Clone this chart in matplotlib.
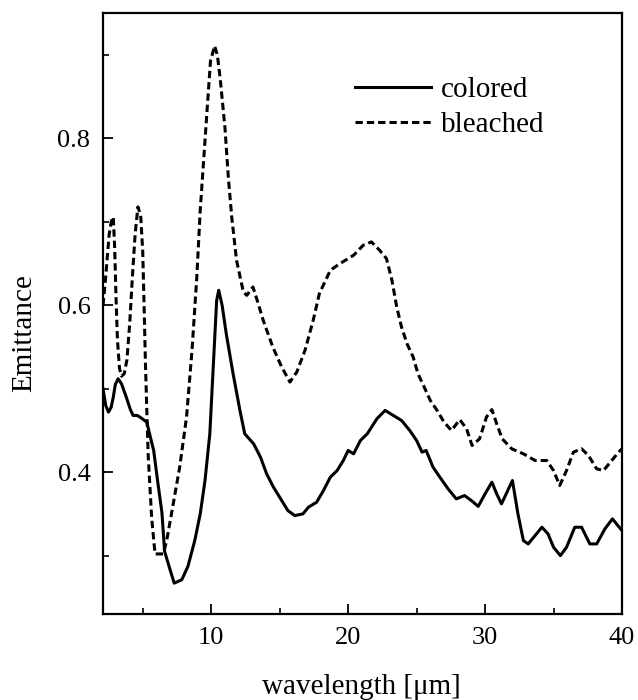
import matplotlib
matplotlib.use("Agg")
import matplotlib.pyplot as plt
from matplotlib.ticker import MultipleLocator

colored_x = [2.1, 2.3, 2.5, 2.7, 2.85, 3.0, 3.2, 3.45, 3.8, 4.1, 4.3, 4.6, 4.8, 5.3, 5.5, 5.8,
             6.1, 6.4, 6.6, 7.0, 7.3, 7.85, 8.3, 8.8, 9.2, 9.55, 9.9, 10.15, 10.4, 10.55, 10.8,
             11.1, 11.6, 12.1, 12.45, 13.1, 13.6, 14.05, 14.55, 15.15, 15.6, 16.1, 16.7, 17.1,
             17.7, 18.2, 18.7, 19.2, 19.65, 20.0, 20.4, 20.9, 21.4, 22.1, 22.7, 23.3, 23.9, 24.5,
             25.0, 25.4, 25.7, 26.2, 26.7, 27.3, 27.9, 28.5, 29.0, 29.5, 30.0, 30.5, 30.85, 31.2,
             31.6, 32.0, 32.4, 32.8, 33.15, 33.65, 34.15, 34.6, 35.0, 35.5, 35.95, 36.55, 37.05,
             37.65, 38.15, 38.75, 39.3, 40.0]
colored_y = [0.500, 0.480, 0.472, 0.478, 0.490, 0.505, 0.512, 0.506, 0.490, 0.475, 0.468, 0.468,
             0.466, 0.460, 0.446, 0.426, 0.388, 0.352, 0.305, 0.283, 0.267, 0.271, 0.287, 0.318,
             0.350, 0.390, 0.446, 0.526, 0.606, 0.618, 0.600, 0.566, 0.518, 0.474, 0.446, 0.434,
             0.418, 0.398, 0.382, 0.366, 0.354, 0.348, 0.350, 0.358, 0.364, 0.378, 0.394, 0.402,
             0.414, 0.426, 0.422, 0.438, 0.446, 0.464, 0.474, 0.468, 0.462, 0.450, 0.438, 0.424,
             0.426, 0.406, 0.394, 0.380, 0.368, 0.372, 0.366, 0.359, 0.374, 0.388, 0.374, 0.362,
             0.376, 0.390, 0.350, 0.318, 0.314, 0.324, 0.334, 0.326, 0.310, 0.300, 0.310, 0.334,
             0.334, 0.314, 0.314, 0.332, 0.344, 0.330]

bleached_x = [2.1, 2.25, 2.4, 2.55, 2.7, 2.85, 2.95, 3.05, 3.15, 3.3, 3.45, 3.65, 3.85, 4.05, 4.25,
              4.45, 4.65, 4.85, 5.0, 5.1, 5.2, 5.3, 5.4, 5.65, 5.9, 6.5, 6.75, 7.1, 7.7, 8.2, 8.6,
              8.95, 9.2, 9.45, 9.7, 9.95, 10.25, 10.45, 10.65, 11.0, 11.25, 11.5, 11.85, 12.35,
              12.6, 13.05, 13.4, 13.8, 14.5, 15.15, 15.75, 16.25, 16.85, 17.45, 17.9, 18.7, 19.4,
              20.4, 21.1, 21.7, 22.3, 22.8, 23.2, 23.55, 23.9, 24.3, 24.75, 25.1, 25.5, 26.0, 26.5,
              27.0, 27.55, 28.15, 28.65, 29.05, 29.6, 30.1, 30.5, 30.85, 31.25, 31.95, 32.8, 33.65,
              34.5, 35.0, 35.45, 35.95, 36.45, 37.05, 37.55, 38.15, 38.65, 39.15, 39.75, 40.0]
bleached_y = [0.600, 0.625, 0.655, 0.685, 0.700, 0.706, 0.670, 0.610, 0.560, 0.525, 0.515, 0.518,
              0.535, 0.578, 0.635, 0.686, 0.718, 0.708, 0.665, 0.600, 0.530, 0.474, 0.420, 0.346,
              0.302, 0.302, 0.318, 0.350, 0.406, 0.466, 0.546, 0.634, 0.714, 0.774, 0.834, 0.893,
              0.911, 0.900, 0.873, 0.814, 0.754, 0.706, 0.654, 0.616, 0.612, 0.622, 0.604, 0.582,
              0.550, 0.526, 0.508, 0.520, 0.546, 0.582, 0.614, 0.642, 0.650, 0.660, 0.672, 0.676,
              0.666, 0.656, 0.630, 0.598, 0.574, 0.554, 0.538, 0.518, 0.504, 0.486, 0.474, 0.460,
              0.450, 0.463, 0.452, 0.432, 0.440, 0.466, 0.475, 0.458, 0.440, 0.428, 0.422, 0.414,
              0.414, 0.402, 0.384, 0.402, 0.424, 0.428, 0.420, 0.404, 0.402, 0.412, 0.424, 0.428]

series_labels = ["colored", "bleached"]
x_ticks = [10, 20, 30, 40]
y_ticks = [0.4, 0.6, 0.8]

plt.rcParams['font.family'] = ['Liberation Serif', 'DejaVu Serif']

fig = plt.figure(figsize=(6.38, 7.0), dpi=100)
ax = fig.add_axes([103/638, 1 - 614/700, 519/638, 601.5/700])

ax.plot(colored_x, colored_y, color='black', lw=2.2, label=series_labels[0])
ax.plot(bleached_x, bleached_y, color='black', lw=2.2, linestyle=(0, (2.4, 1.3)),
        label=series_labels[1])

ax.set_xlim(2.1, 40)
ax.set_ylim(0.23, 0.951)
ax.set_xticks(x_ticks)
ax.set_yticks(y_ticks)
ax.xaxis.set_minor_locator(MultipleLocator(5))
ax.yaxis.set_minor_locator(MultipleLocator(0.1))
ax.tick_params(which='major', direction='in', length=7, width=1.3, labelsize=19, pad=9)
ax.tick_params(which='minor', direction='in', length=4, width=1.2)
for s in ax.spines.values():
    s.set_linewidth(1.6)

ax.set_xlabel("wavelength [μm]", fontsize=21)
ax.xaxis.label.set_va('center')
ax.xaxis.set_label_coords(0.497, -0.122)
ax.set_ylabel("Emittance", fontsize=21)
ax.yaxis.label.set_va('center')
ax.yaxis.set_label_coords(-0.152, 0.467)

ax.legend(loc='upper left', bbox_to_anchor=(0.4855, 0.893), frameon=False, fontsize=21,
          borderpad=0, borderaxespad=0, handlelength=2.6, handletextpad=0.35,
          labelspacing=0.3)

fig.savefig("out.png", dpi=100)
